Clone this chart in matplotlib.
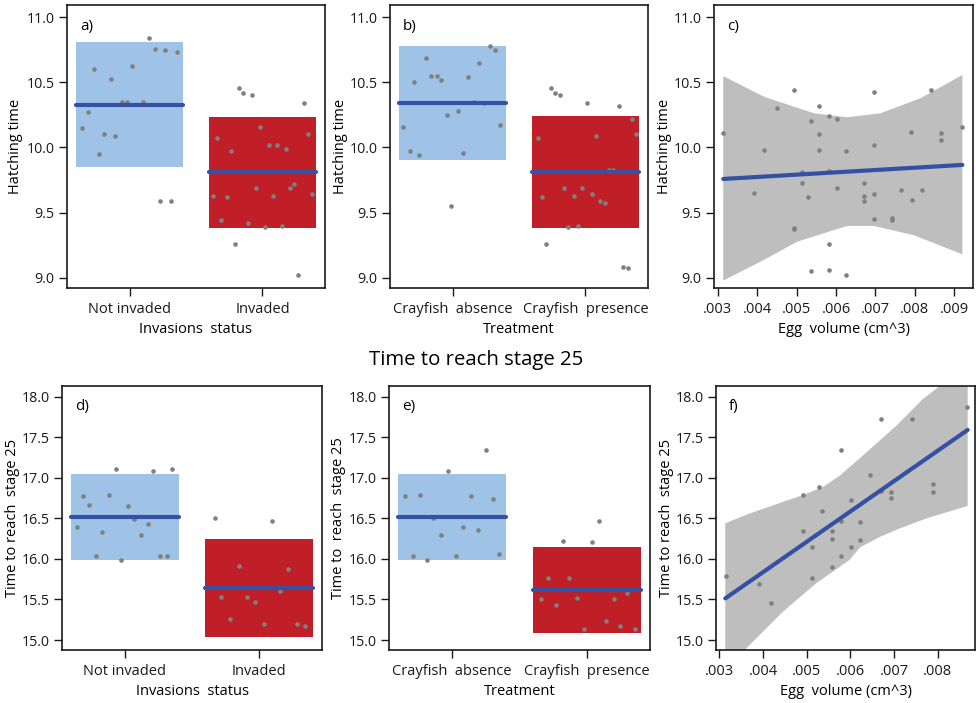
import matplotlib
matplotlib.use("Agg")
import matplotlib.pyplot as plt
import numpy as np

plt.rcParams["font.family"] = ["Open Sans", "DejaVu Sans"]

# colours
BLUE_BOX = "#9fc3e6"
RED_BOX = "#c01f28"
LINE = "#3551a4"
DOT = "#808080"
BAND = "#bebebe"

# ---------------- hatching time, invasion status (a) ----------------
a_groups = ["Not invaded", "Invaded"]
a_box_low = [9.85, 9.38]
a_box_high = [10.81, 10.235]
a_mean = [10.33, 9.81]
a_g1_dx = [-0.36, -0.31, -0.27, -0.23, -0.19, -0.14, -0.11, -0.06, -0.02, 0.02,
           0.10, 0.15, 0.19, 0.23, 0.27, 0.31, 0.36]
a_g1_y = [10.15, 10.27, 10.60, 9.95, 10.10, 10.53, 10.09, 10.35, 10.35, 10.63,
          10.35, 10.84, 10.76, 9.59, 10.75, 9.59, 10.73]
a_g2_dx = [-0.37, -0.34, -0.31, -0.27, -0.24, -0.21, -0.18, -0.15, -0.11, -0.08,
           -0.05, -0.02, 0.02, 0.05, 0.08, 0.11, 0.15, 0.18, 0.21, 0.24, 0.27,
           0.31, 0.34, 0.37]
a_g2_y = [9.63, 10.07, 9.44, 9.62, 9.97, 9.26, 10.46, 10.42, 9.42, 10.40,
          9.69, 10.16, 9.39, 10.02, 9.63, 10.02, 9.40, 9.99, 9.69, 9.72, 9.02,
          10.34, 10.10, 9.64]

# ---------------- hatching time, treatment (b) ----------------
b_groups = ["Crayfish  absence", "Crayfish  presence"]
b_box_low = [9.90, 9.38]
b_box_high = [10.78, 10.24]
b_mean = [10.34, 9.81]
b_g1_dx = [-0.37, -0.32, -0.29, -0.25, -0.20, -0.16, -0.12, -0.09, -0.04, -0.01,
           0.04, 0.08, 0.12, 0.16, 0.20, 0.24, 0.28, 0.32, 0.36]
b_g1_y = [10.16, 9.97, 10.50, 9.94, 10.69, 10.55, 10.55, 10.52, 10.25, 9.55,
          10.28, 9.96, 10.54, 10.35, 10.65, 10.34, 10.78, 10.75, 10.17]
b_g2_dx = [-0.36, -0.33, -0.30, -0.26, -0.23, -0.19, -0.16, -0.13, -0.09, -0.06,
           -0.03, 0.01, 0.05, 0.08, 0.11, 0.15, 0.18, 0.21, 0.25, 0.28, 0.32,
           0.35, 0.38]
b_g2_y = [10.07, 9.62, 9.26, 10.46, 10.42, 10.40, 9.69, 9.39, 9.63, 9.40,
          9.69, 10.34, 9.64, 10.09, 9.59, 9.57, 9.83, 9.83, 10.32, 9.08, 9.07,
          10.22, 10.10]

# ---------------- hatching time vs egg volume (c) ----------------
c_x = [0.00314, 0.00391, 0.00418, 0.00450, 0.00493, 0.00493, 0.00493, 0.00514,
       0.00514, 0.00529, 0.00536, 0.00536, 0.00557, 0.00557, 0.00557, 0.00581,
       0.00581, 0.00581, 0.00581, 0.00602, 0.00602, 0.00626, 0.00626, 0.00671,
       0.00671, 0.00671, 0.00696, 0.00696, 0.00696, 0.00696, 0.00743, 0.00743,
       0.00766, 0.00790, 0.00792, 0.00818, 0.00841, 0.00867, 0.00867, 0.00919]
c_y = [10.11, 9.65, 9.98, 10.30, 10.44, 9.38, 9.37, 9.73,
       9.81, 9.62, 9.05, 10.20, 10.32, 10.10, 9.98, 10.24,
       9.26, 9.06, 9.82, 10.22, 9.69, 9.97, 9.02, 9.73,
       9.63, 9.59, 10.43, 10.02, 9.64, 9.45, 9.46, 9.44,
       9.67, 10.12, 9.60, 9.67, 10.44, 10.11, 10.06, 10.16]
c_fit_x = [0.003135, 0.00921]
c_fit_y = [9.758, 9.866]
c_band_up_x = [0.003135, 0.004168, 0.005437, 0.006282, 0.007129, 0.008145, 0.00921]
c_band_up_y = [10.549, 10.390, 10.263, 10.232, 10.263, 10.378, 10.557]
c_band_lo_x = [0.003135, 0.004168, 0.005013, 0.006282, 0.006959, 0.007975, 0.00921]
c_band_lo_y = [8.977, 9.136, 9.276, 9.397, 9.397, 9.326, 9.179]

# ---------------- time to stage 25, invasion status (d) ----------------
d_box_low = [15.98, 15.04]
d_box_high = [17.04, 16.25]
d_mean = [16.52, 15.64]
d_g1_dx = [-0.36, -0.31, -0.27, -0.22, -0.17, -0.12, -0.07, -0.03, 0.02, 0.07,
           0.12, 0.17, 0.21, 0.26, 0.31, 0.35]
d_g1_y = [16.39, 16.78, 16.66, 16.04, 16.33, 16.79, 17.11, 15.98, 16.65, 16.49,
          16.29, 16.43, 17.08, 16.03, 16.04, 17.11]
d_g2_dx = [-0.33, -0.28, -0.22, -0.15, -0.09, -0.03, 0.04, 0.10, 0.16, 0.22,
           0.28, 0.34]
d_g2_y = [16.50, 15.53, 15.26, 15.91, 15.53, 15.47, 15.20, 16.47, 15.61, 15.88,
          15.20, 15.17]

# ---------------- time to stage 25, treatment (e) ----------------
e_box_low = [15.98, 15.09]
e_box_high = [17.04, 16.15]
e_mean = [16.52, 15.62]
e_g1_dx = [-0.35, -0.29, -0.24, -0.19, -0.14, -0.08, -0.03, 0.03, 0.08, 0.14,
           0.19, 0.25, 0.30, 0.35]
e_g1_y = [16.78, 16.04, 16.79, 15.98, 16.50, 16.29, 17.08, 16.04, 16.39, 16.78,
          16.35, 17.34, 16.74, 16.06]
e_g2_dx = [-0.34, -0.29, -0.23, -0.18, -0.13, -0.07, -0.02, 0.04, 0.09, 0.14,
           0.20, 0.25, 0.30, 0.36]
e_g2_y = [15.51, 15.77, 15.43, 16.22, 15.76, 15.52, 15.13, 16.21, 16.47, 15.23,
          15.50, 15.17, 15.58, 15.14]

# ---------------- time to stage 25 vs egg volume (f) ----------------
f_x = [0.00315, 0.00390, 0.00418, 0.00492, 0.00492, 0.00513, 0.00513, 0.00528,
       0.00534, 0.00558, 0.00558, 0.00558, 0.00579, 0.00579, 0.00579, 0.00602,
       0.00602, 0.00623, 0.00623, 0.00646, 0.00670, 0.00670, 0.00693, 0.00693,
       0.00741, 0.00789, 0.00789, 0.00866]
f_y = [15.79, 15.69, 15.45, 16.79, 16.34, 16.15, 15.77, 16.89,
       16.59, 16.34, 16.25, 15.90, 17.34, 16.47, 16.04, 16.72,
       16.15, 16.45, 16.23, 17.03, 17.72, 16.84, 16.82, 16.75,
       17.72, 16.92, 16.83, 17.87]
f_fit_x = [0.003137, 0.008686]
f_fit_y = [15.513, 17.589]
f_band_up_x = [0.003137, 0.003709, 0.004470, 0.004928, 0.005385, 0.005751,
               0.006362, 0.007048, 0.007658, 0.008686]
f_band_up_y = [16.439, 16.562, 16.705, 16.788, 16.890, 17.022, 17.309, 17.638,
               17.968, 18.40]
f_band_lo_x = [0.003137, 0.003617, 0.004457, 0.005218, 0.005980, 0.006224,
               0.006682, 0.007139, 0.007750, 0.008686]
f_band_lo_y = [14.40, 14.897, 15.349, 15.699, 15.986, 16.143, 16.273, 16.377,
               16.500, 16.652]

egg_ticks = [0.003, 0.004, 0.005, 0.006, 0.007, 0.008, 0.009]
egg_ticklabels = [".003", ".004", ".005", ".006", ".007", ".008", ".009"]

W, H = 976, 703
fig = plt.figure(figsize=(W / 100, H / 100), dpi=100)


def make_axes(left, top, right, bottom):
    return fig.add_axes([left / W, 1 - bottom / H, (right - left) / W, (bottom - top) / H])


def style(ax, label, ylab, xlab, ylab_x):
    for s in ax.spines.values():
        s.set_linewidth(1.2)
        s.set_color("#1a1a1a")
    ax.tick_params(direction="out", length=6, width=1, pad=4, colors="#1a1a1a")
    ax.tick_params(axis="y", labelsize=10.3, pad=3)
    ax.set_ylabel(ylab, fontsize=10.5, va="center")
    ax.yaxis.set_label_coords(ylab_x, 0.5)
    ax.set_xlabel(xlab, fontsize=10.5, labelpad=4)
    ax.text(0.05, 0.95, label, transform=ax.transAxes, fontsize=11, va="top", ha="left")


def category_panel(ax, groups, lows, highs, means, dx1, y1, dx2, y2, ylim, yticks):
    colors = [BLUE_BOX, RED_BOX]
    for i in range(2):
        ax.fill_between([i + 1 - 0.4, i + 1 + 0.4], lows[i], highs[i],
                        color=colors[i], lw=0, zorder=1)
    ax.scatter(1 + np.array(dx1), y1, s=11, color=DOT, zorder=2, lw=0)
    ax.scatter(2 + np.array(dx2), y2, s=11, color=DOT, zorder=2, lw=0)
    for i in range(2):
        ax.plot([i + 1 - 0.4, i + 1 + 0.4], [means[i], means[i]], color=LINE,
                lw=3, solid_capstyle="round", zorder=3)
    ax.set_xlim(0.53, 2.47)
    ax.set_ylim(*ylim)
    ax.set_xticks([1, 2])
    ax.set_xticklabels(groups, fontsize=10.5)
    ax.set_yticks(yticks)
    ax.set_yticklabels([f"{t:.1f}" for t in yticks])


def regression_panel(ax, x, y, fx, fy, ux, uy, lx, ly, xlim, ylim, yticks):
    ax.fill(np.concatenate([ux, lx[::-1]]), np.concatenate([uy, ly[::-1]]),
            color=BAND, lw=0, zorder=1)
    ax.scatter(x, y, s=11, color=DOT, zorder=2, lw=0)
    ax.plot(fx, fy, color=LINE, lw=3, solid_capstyle="round", zorder=3)
    ax.set_xlim(*xlim)
    ax.set_ylim(*ylim)
    ticks = [t for t in egg_ticks if xlim[0] <= t <= xlim[1]]
    ax.set_xticks(ticks)
    ax.set_xticklabels(egg_ticklabels[:len(ticks)], fontsize=10.5)
    ax.set_yticks(yticks)
    ax.set_yticklabels([f"{t:.1f}" for t in yticks])


top_ylim = (8.92, 11.095)
top_ticks = [9.0, 9.5, 10.0, 10.5, 11.0]
bot_ylim = (14.877, 18.13)
bot_ticks = [15.0, 15.5, 16.0, 16.5, 17.0, 17.5, 18.0]

ax_a = make_axes(67, 5, 325, 288)
category_panel(ax_a, a_groups, a_box_low, a_box_high, a_mean,
               a_g1_dx, a_g1_y, a_g2_dx, a_g2_y, top_ylim, top_ticks)
style(ax_a, "a)", "Hatching time", "Invasions  status", -0.2)

ax_b = make_axes(390, 5, 648, 288)
category_panel(ax_b, b_groups, b_box_low, b_box_high, b_mean,
               b_g1_dx, b_g1_y, b_g2_dx, b_g2_y, top_ylim, top_ticks)
style(ax_b, "b)", "Hatching time", "Treatment", -0.19)

ax_c = make_axes(714, 5, 973, 288)
regression_panel(ax_c, c_x, c_y, c_fit_x, c_fit_y,
                 np.array(c_band_up_x), np.array(c_band_up_y),
                 np.array(c_band_lo_x), np.array(c_band_lo_y),
                 (0.0029, 0.00948), top_ylim, top_ticks)
style(ax_c, "c)", "Hatching time", "Egg  volume (cm^3)", -0.19)

ax_d = make_axes(62, 386, 322, 650)
category_panel(ax_d, a_groups, d_box_low, d_box_high, d_mean,
               d_g1_dx, d_g1_y, d_g2_dx, d_g2_y, bot_ylim, bot_ticks)
style(ax_d, "d)", "Time to reach  stage 25", "Invasions  status", -0.19)

ax_e = make_axes(389, 386, 650, 650)
category_panel(ax_e, b_groups, e_box_low, e_box_high, e_mean,
               e_g1_dx, e_g1_y, e_g2_dx, e_g2_y, bot_ylim, bot_ticks)
style(ax_e, "e)", "Time to  reach  stage 25", "Treatment", -0.195)

ax_f = make_axes(716, 386, 975, 650)
regression_panel(ax_f, f_x, f_y, f_fit_x, f_fit_y,
                 np.array(f_band_up_x), np.array(f_band_up_y),
                 np.array(f_band_lo_x), np.array(f_band_lo_y),
                 (0.002924, 0.008854), bot_ylim, bot_ticks)
style(ax_f, "f)", "Time to reach  stage 25", "Egg  volume (cm^3)", -0.19)

fig.text(476 / W, 1 - 360 / H, "Time to reach stage 25", fontsize=14.7,
         ha="center", va="center")

fig.savefig("out.png", dpi=100)
